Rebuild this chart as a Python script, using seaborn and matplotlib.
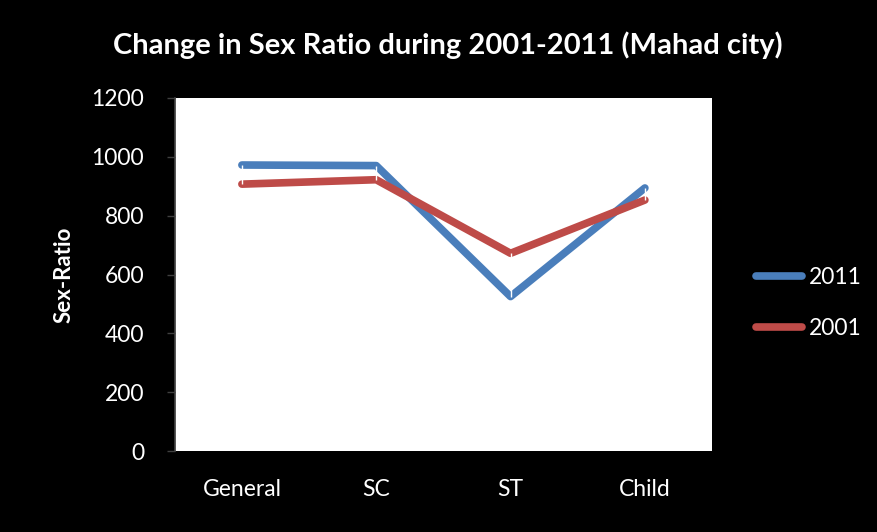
import pandas as pd
import numpy as np
import matplotlib
matplotlib.use("Agg")
import matplotlib.pyplot as plt
import seaborn as sns

# sex ratio values
categories = ["General", "SC", "ST", "Child"]
ratio_2011 = [972, 970, 525, 894]
ratio_2001 = [907, 922, 672, 853]

df = pd.DataFrame({
    "Category": categories * 2,
    "Sex-Ratio": ratio_2011 + ratio_2001,
    "Year": ["2011"] * 4 + ["2001"] * 4,
})

sns.set_theme(style="white")
plt.rcParams["font.family"] = ["Lato", "DejaVu Sans"]

fig = plt.figure(figsize=(8.78, 5.32), dpi=100, facecolor="black")
ax = fig.add_axes([0.199, 0.152, 0.612, 0.664])
ax.set_facecolor("white")

pal = {"2011": "#4A7EBB", "2001": "#BE4B48"}
sns.lineplot(data=df, x="Category", y="Sex-Ratio", hue="Year", palette=pal,
             linewidth=5.5, sort=False, ax=ax, solid_capstyle="round",
             solid_joinstyle="round")

# thin white high-low lines between the two series
ax.vlines(range(len(categories)), np.minimum(ratio_2011, ratio_2001),
          np.maximum(ratio_2011, ratio_2001), colors="white", linewidth=1, zorder=5)

ax.set_xlim(-0.5, 3.5)
ax.set_ylim(0, 1200)
ax.set_yticks(range(0, 1201, 200))
ax.tick_params(axis="y", labelcolor="white", labelsize=16.5, length=6, width=1,
               direction="out", left=True, pad=16, color="#404040")
ax.tick_params(axis="x", labelcolor="white", labelsize=16.5, length=0, pad=20)
for s in ["top", "right", "bottom"]:
    ax.spines[s].set_visible(False)
ax.spines["left"].set_color("#404040")
ax.set_xlabel("")
ax.set_ylabel("Sex-Ratio", color="white", fontsize=16, fontweight="bold", labelpad=12)

fig.text(0.51, 0.915, "Change in Sex Ratio during 2001-2011 (Mahad city)",
         color="white", fontsize=21, fontweight="bold", ha="center", va="center")

leg = ax.legend(loc="center left", bbox_to_anchor=(1.082, 0.42), frameon=False,
                fontsize=16.5, handlelength=2.0, labelspacing=1.3, handletextpad=0.3,
                borderaxespad=0, borderpad=0)
for t in leg.get_texts():
    t.set_color("white")
for h in leg.get_lines():
    h.set_linewidth(5.5)

fig.savefig("out.png", dpi=100, facecolor="black")
